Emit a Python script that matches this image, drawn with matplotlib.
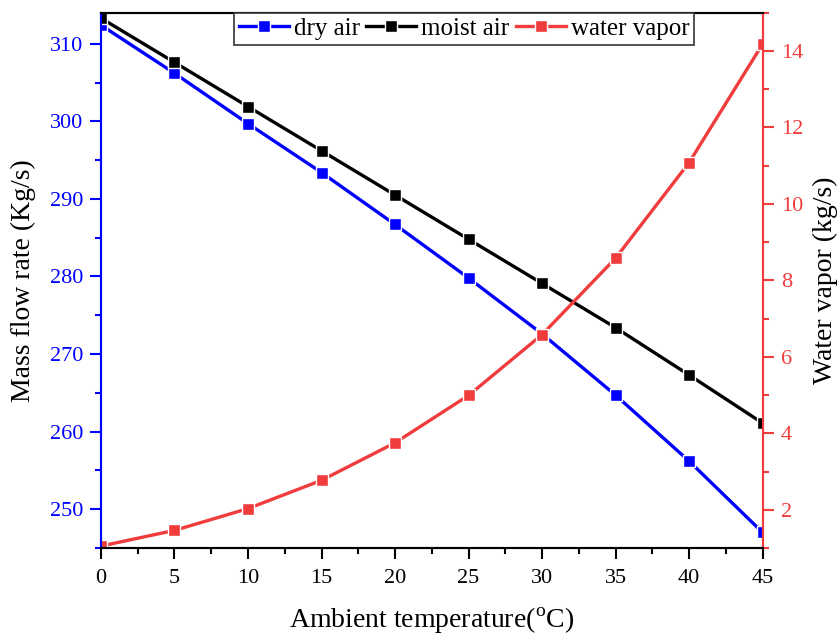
import matplotlib
matplotlib.use("Agg")
import matplotlib.pyplot as plt
from matplotlib.ticker import MultipleLocator

plt.rcParams['font.family'] = ['Liberation Serif', 'DejaVu Serif']
plt.rcParams['mathtext.fontset'] = 'custom'
plt.rcParams['mathtext.rm'] = 'Liberation Serif'

temperature = [0, 5, 10, 15, 20, 25, 30, 35, 40, 45]
dry_air = [312.4, 306.2, 299.7, 293.4, 286.7, 279.8, 272.6, 264.7, 256.2, 247.0]
moist_air = [313.3, 307.6, 301.9, 296.2, 290.5, 284.8, 279.1, 273.4, 267.3, 261.1]
water_vapor = [1.05, 1.46, 2.03, 2.77, 3.75, 4.99, 6.58, 8.58, 11.08, 14.18]

BLUE = '#0000FF'
RED = '#F03C3C'
BLACK = '#000000'

fig = plt.figure(figsize=(8.38, 6.36), dpi=100)
ax = fig.add_axes([0.1205, 0.1384, 0.7895, 0.8416])
ax2 = ax.twinx()

kw = dict(lw=2.4, marker='s', ms=8, mec='white', mew=1.0)
l1, = ax.plot(temperature, dry_air, color=BLUE, mfc=BLUE, label='dry air', **kw)
l2, = ax.plot(temperature, moist_air, color=BLACK, mfc=BLACK, label='moist air', **kw)
l3, = ax2.plot(temperature, water_vapor, color=RED, mfc=RED, label='water vapor', **kw)

ax.set_xlim(0, 45)
ax.set_ylim(245, 314)
ax2.set_ylim(1, 15)

ax.xaxis.set_major_locator(MultipleLocator(5))
ax.xaxis.set_minor_locator(MultipleLocator(2.5))
ax.yaxis.set_major_locator(MultipleLocator(10))
ax.yaxis.set_minor_locator(MultipleLocator(5))
ax2.yaxis.set_major_locator(MultipleLocator(2))
ax2.yaxis.set_minor_locator(MultipleLocator(1))

for a in (ax, ax2):
    for s in a.spines.values():
        s.set_linewidth(1.5)

ax.spines['left'].set_color(BLUE)
ax2.spines['left'].set_color(BLUE)
ax2.spines['right'].set_color(RED)
ax.spines['right'].set_color(RED)

ax.tick_params(axis='x', which='major', direction='out', length=8, width=1.5, labelsize=16, pad=7)
ax.tick_params(axis='x', which='minor', direction='out', length=4, width=1.5)
ax.tick_params(axis='y', which='major', direction='out', length=8, width=1.5, colors=BLUE, labelsize=16, pad=5)
ax.tick_params(axis='y', which='minor', direction='out', length=4, width=1.5, colors=BLUE)
ax2.tick_params(axis='y', which='major', direction='out', length=8, width=1.5, colors=RED, labelsize=16, pad=5)
ax2.tick_params(axis='y', which='minor', direction='out', length=4, width=1.5, colors=RED)

ax.set_xlabel(r'Ambient temperature($^{\mathrm{o}}$C)', fontsize=20, labelpad=13)
ax.set_ylabel('Mass flow rate (Kg/s)', fontsize=20, labelpad=10)
ax2.set_ylabel('Water vapor (kg/s)', fontsize=20, labelpad=7)

leg = ax2.legend(handles=[l1, l2, l3], loc='upper center', bbox_to_anchor=(0.549, 1.0),
                 ncol=3, fontsize=18, frameon=True, fancybox=False, framealpha=1,
                 edgecolor='#333333', handlelength=2.0, handletextpad=0.2,
                 columnspacing=0.25, borderpad=0.2, borderaxespad=0.0)
leg.get_frame().set_linewidth(1.2)

fig.savefig('out.png', dpi=100)
